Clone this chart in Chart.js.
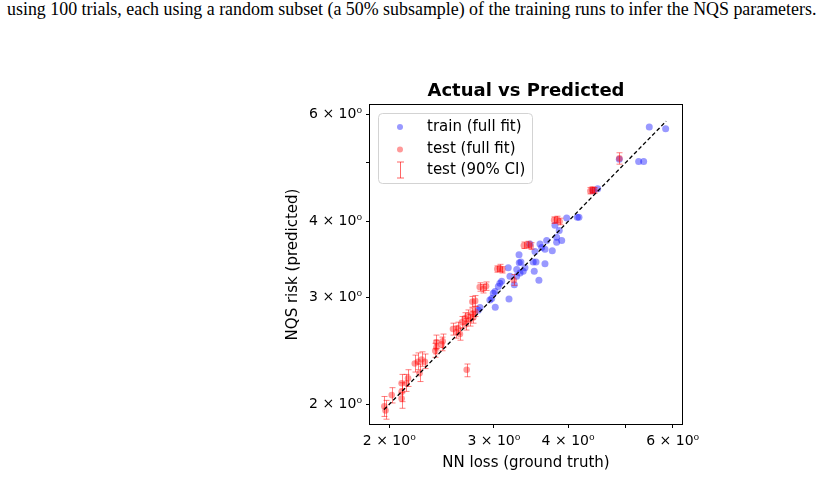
<!DOCTYPE html>
<html lang="en">
<head>
  <meta charset="UTF-8">
  <title>Actual vs Predicted</title>
  <script src="https://cdn.jsdelivr.net/npm/chart.js"></script>
  <style>
    body { margin: 0; background: #fff; }
    .wrap { position: relative; width: 823px; height: 479px; overflow: hidden; }
    .para {
      position: absolute;
      left: 7px;
      top: -1px;
      font-family: "Liberation Serif", "Times New Roman", serif;
      font-size: 17.9px;
      white-space: nowrap;
      color: #000;
    }
    #chart { position: absolute; left: 0; top: 0; }
  </style>
</head>
<body>
<div class="wrap">
  <div class="para">using 100 trials, each using a random subset (a 50% subsample) of the training runs to infer the NQS parameters.</div>
  <canvas id="chart" width="823" height="479"></canvas>
</div>
<script>
  // train (full fit)
  const trainX = [2.954, 2.975, 3.013, 3.052, 3.071, 3.016, 3.181, 2.824, 3.247, 3.172, 3.278, 3.384, 3.310, 3.331, 3.307, 3.494, 3.532, 3.508, 3.657, 3.572, 3.450, 3.518, 3.587, 3.610, 3.657, 3.762, 3.681, 3.801, 3.865, 3.826, 3.902, 3.826, 3.978, 4.145, 4.172, 4.409, 4.486, 4.878, 5.258, 5.361, 5.479, 5.838, 3.361, 3.320, 3.277, 3.092, 3.193, 2.993, 2.843];
  const trainY = [2.969, 2.988, 3.066, 3.126, 3.166, 2.890, 2.981, 2.856, 3.146, 3.355, 3.333, 3.355, 3.421, 3.430, 3.524, 3.430, 3.430, 3.313, 3.408, 3.200, 3.671, 3.569, 3.671, 3.624, 3.601, 3.579, 3.720, 3.941, 3.866, 3.767, 3.720, 3.695, 4.054, 4.064, 4.064, 4.494, 4.529, 5.065, 5.023, 5.023, 5.723, 5.687, 3.313, 3.291, 3.249, 3.188, 3.249, 3.047, 2.886];

  // test (full fit) with 90% CI
  const testX  = [1.962, 1.971, 2.019, 2.098, 2.098, 2.098, 2.151, 2.138, 2.208, 2.235, 2.249, 2.296, 2.267, 2.401, 2.401, 2.449, 2.46, 2.39, 2.56, 2.594, 2.63, 2.61, 2.65, 2.68, 2.71, 2.73, 2.76, 2.77, 2.79, 2.69, 2.76, 2.79, 2.70, 2.84, 2.88, 2.91, 3.24, 3.04, 3.07, 3.10, 3.37, 3.42, 3.46, 3.79, 3.83, 3.87, 4.36, 4.39, 4.43, 4.88];
  const testY  = [1.985, 1.954, 2.071, 2.166, 2.096, 2.044, 2.208, 2.166, 2.334, 2.35, 2.25, 2.35, 2.37, 2.48, 2.53, 2.51, 2.54, 2.45, 2.66, 2.63, 2.61, 2.67, 2.73, 2.77, 2.80, 2.75, 2.82, 2.78, 2.84, 2.71, 2.95, 2.96, 2.28, 3.12, 3.10, 3.13, 3.20, 3.34, 3.35, 3.33, 3.65, 3.66, 3.64, 4.02, 4.03, 4.00, 4.49, 4.51, 4.50, 5.08];
  const testLo = [1.91, 1.89, 2.01, 2.09, 2.02, 1.97, 2.14, 2.10, 2.26, 2.28, 2.18, 2.29, 2.31, 2.42, 2.47, 2.45, 2.48, 2.39, 2.60, 2.57, 2.55, 2.61, 2.67, 2.71, 2.74, 2.69, 2.76, 2.72, 2.79, 2.65, 2.89, 2.90, 2.22, 3.07, 3.05, 3.08, 3.14, 3.30, 3.31, 3.29, 3.61, 3.62, 3.60, 3.97, 3.98, 3.95, 4.44, 4.46, 4.45, 4.97];
  const testHi = [2.06, 2.03, 2.13, 2.24, 2.17, 2.12, 2.28, 2.24, 2.41, 2.43, 2.33, 2.42, 2.44, 2.55, 2.60, 2.58, 2.61, 2.52, 2.72, 2.69, 2.67, 2.73, 2.79, 2.83, 2.86, 2.81, 2.88, 2.84, 2.90, 2.77, 3.01, 3.02, 2.33, 3.17, 3.15, 3.18, 3.27, 3.38, 3.40, 3.37, 3.70, 3.71, 3.69, 4.07, 4.08, 4.05, 4.55, 4.56, 4.55, 5.19];

  // y = x reference line
  const diagonal = [1.96, 5.85];

  const axisMin = 1.856;
  const axisMax = 6.22;
  const tickValues = [2, 3, 4, 5, 6];
  const tickLabels = ['2 × 10⁰', '3 × 10⁰', '4 × 10⁰', '', '6 × 10⁰'];

  const FONT = 'DejaVu Sans';

  function labelFor(v) {
    const i = tickValues.indexOf(Math.round(v * 1000) / 1000);
    return i >= 0 ? tickLabels[i] : '';
  }

  function setTicks(scale) {
    scale.ticks = tickValues.map(v => ({ value: v }));
  }

  const errorBars = {
    id: 'errorBars',
    beforeDatasetDraw(chart, args) {
      if (args.index !== 2) return;
      const c = chart.ctx, xs = chart.scales.x, ys = chart.scales.y;
      c.save();
      c.strokeStyle = 'rgba(255,0,0,0.5)';
      c.lineWidth = 1;
      for (let i = 0; i < testX.length; i++) {
        const px = Math.round(xs.getPixelForValue(testX[i])) + 0.5;
        const y1 = ys.getPixelForValue(testLo[i]);
        const y2 = ys.getPixelForValue(testHi[i]);
        c.beginPath();
        c.moveTo(px, y1); c.lineTo(px, y2);
        c.moveTo(px - 3, y1); c.lineTo(px + 3, y1);
        c.moveTo(px - 3, y2); c.lineTo(px + 3, y2);
        c.stroke();
      }
      c.restore();
    }
  };

  const decor = {
    id: 'decor',
    afterDraw(chart) {
      const c = chart.ctx, a = chart.chartArea;
      c.save();
      // frame
      c.strokeStyle = '#000';
      c.lineWidth = 1;
      c.strokeRect(Math.round(a.left) - 0.5, Math.round(a.top) - 0.5, Math.round(a.right - a.left) + 1, Math.round(a.bottom - a.top) + 1);
      // title
      c.fillStyle = '#000';
      c.font = 'bold 18px "' + FONT + '"';
      c.textAlign = 'center';
      c.textBaseline = 'alphabetic';
      c.fillText('Actual vs Predicted', (a.left + a.right) / 2, a.top - 9);
      // legend
      const lx = a.left + 8, ly = a.top + 8, lw = 154, lh = 70;
      c.beginPath();
      c.roundRect(lx + 0.5, ly + 0.5, lw, lh, 4);
      c.fillStyle = 'rgba(255,255,255,0.8)';
      c.fill();
      c.strokeStyle = '#d3d3d3';
      c.stroke();
      const mx = lx + 22;
      const rows = [ly + 14, ly + 36.5, ly + 57];
      c.fillStyle = 'rgba(0,0,255,0.4)';
      c.beginPath(); c.arc(mx, rows[0], 3, 0, Math.PI * 2); c.fill();
      c.fillStyle = 'rgba(255,0,0,0.4)';
      c.beginPath(); c.arc(mx, rows[1], 3, 0, Math.PI * 2); c.fill();
      c.strokeStyle = 'rgba(255,0,0,0.6)';
      c.beginPath();
      c.moveTo(mx + 0.5, rows[2] - 8); c.lineTo(mx + 0.5, rows[2] + 8);
      c.moveTo(mx - 3, rows[2] - 8); c.lineTo(mx + 4, rows[2] - 8);
      c.moveTo(mx - 3, rows[2] + 8); c.lineTo(mx + 4, rows[2] + 8);
      c.stroke();
      c.fillStyle = '#000';
      c.font = '15px "' + FONT + '"';
      c.textAlign = 'left';
      c.textBaseline = 'middle';
      c.fillText('train (full fit)', lx + 49, rows[0]);
      c.fillText('test (full fit)', lx + 49, rows[1]);
      c.fillText('test (90% CI)', lx + 49, rows[2]);
      c.restore();
    }
  };

  const tickFont = { family: FONT, size: 14 };
  const titleFont = { family: FONT, size: 15 };

  new Chart(document.getElementById('chart'), {
    type: 'scatter',
    data: {
      datasets: [
        {
          label: 'y = x',
          type: 'line',
          data: diagonal.map(v => ({ x: v, y: v })),
          borderColor: '#000',
          borderWidth: 1.3,
          borderDash: [4, 2.5],
          pointRadius: 0,
          fill: false,
          order: 1
        },
        {
          label: 'train (full fit)',
          data: trainX.map((v, i) => ({ x: v, y: trainY[i] })),
          backgroundColor: 'rgba(0,0,255,0.4)',
          borderWidth: 0,
          pointRadius: 3.5,
          order: 3
        },
        {
          label: 'test (full fit)',
          data: testX.map((v, i) => ({ x: v, y: testY[i] })),
          backgroundColor: 'rgba(255,0,0,0.4)',
          borderWidth: 0,
          pointRadius: 3.3,
          order: 2
        }
      ]
    },
    options: {
      responsive: false,
      animation: false,
      layout: { padding: { left: 280, right: 141, top: 105, bottom: 3 } },
      plugins: { legend: { display: false }, tooltip: { enabled: false } },
      scales: {
        x: {
          type: 'logarithmic',
          min: axisMin,
          max: axisMax,
          afterBuildTicks: setTicks,
          afterFit: s => { s.height = 52; },
          grid: { drawOnChartArea: false, drawTicks: true, tickLength: 4, color: '#000' },
          border: { display: false },
          ticks: { autoSkip: false, maxRotation: 0, color: '#000', font: tickFont, padding: 5, callback: v => labelFor(v) },
          title: { display: true, text: 'NN loss (ground truth)', color: '#000', font: titleFont }
        },
        y: {
          type: 'logarithmic',
          min: axisMin,
          max: axisMax,
          afterBuildTicks: setTicks,
          afterFit: s => { s.width = 90; },
          grid: { drawOnChartArea: false, drawTicks: true, tickLength: 4, color: '#000' },
          border: { display: false },
          ticks: { autoSkip: false, color: '#000', font: tickFont, padding: 4, callback: v => labelFor(v) },
          title: { display: true, text: 'NQS risk (predicted)', color: '#000', font: titleFont }
        }
      }
    },
    plugins: [errorBars, decor]
  });
</script>
</body>
</html>
